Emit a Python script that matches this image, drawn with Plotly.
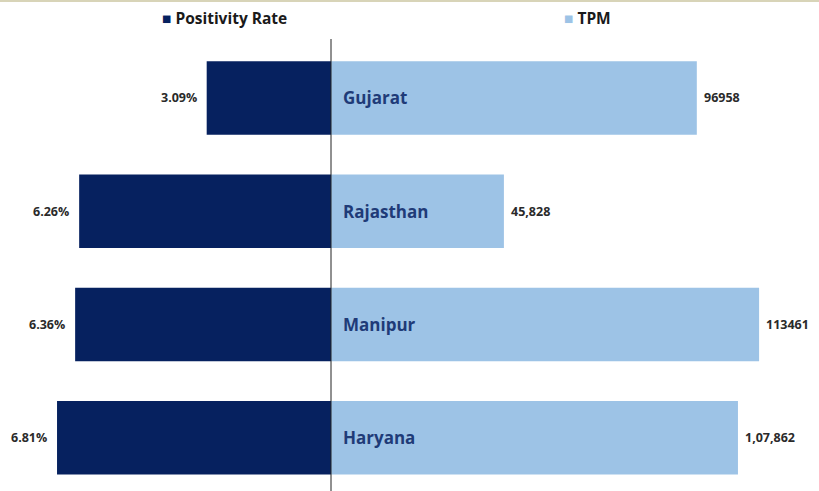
import plotly.graph_objects as go

states = ["Gujarat", "Rajasthan", "Manipur", "Haryana"]
positivity = [3.09, 6.26, 6.36, 6.81]
positivity_labels = ["3.09%", "6.26%", "6.36%", "6.81%"]
tpm = [96958, 45828, 113461, 107862]
tpm_labels = ["96958", "45,828", "113461", "1,07,862"]

NAVY = "#06215F"
LIGHT = "#9DC3E6"
W, H = 819, 491
center = 331 / W
FONT = "Open Sans"

fig = go.Figure()
fig.add_trace(go.Bar(y=states, x=positivity, orientation="h", xaxis="x", yaxis="y",
                     marker=dict(color=NAVY, line=dict(width=0)), width=0.65,
                     name="Positivity Rate", showlegend=False, hoverinfo="x+y"))
fig.add_trace(go.Bar(y=states, x=tpm, orientation="h", xaxis="x2", yaxis="y",
                     marker=dict(color=LIGHT, line=dict(width=0)), width=0.65,
                     name="TPM", showlegend=False, hoverinfo="x+y"))

ann = []
for s, v, t in zip(states, positivity, positivity_labels):
    ann.append(dict(x=v, y=s, xref="x", yref="y", text=t, showarrow=False,
                    xanchor="right", xshift=-8,
                    font=dict(family=FONT, size=12.5, color="#2a2a2a", weight="bold")))
for s, v, t in zip(states, tpm, tpm_labels):
    ann.append(dict(x=v, y=s, xref="x2", yref="y", text=t, showarrow=False,
                    xanchor="left", xshift=5,
                    font=dict(family=FONT, size=12.5, color="#2a2a2a", weight="bold")))
    ann.append(dict(x=0, y=s, xref="x2", yref="y", text=s, showarrow=False,
                    xanchor="left", xshift=10,
                    font=dict(family=FONT, size=17, color="#1F3B78", weight="bold")))

# legend built as text
ann.append(dict(x=160 / W, y=1 + 23 / 450, xref="paper", yref="paper",
                text=f"<span style='color:{NAVY}'>■</span> Positivity Rate",
                showarrow=False, xanchor="left", yanchor="middle",
                font=dict(family=FONT, size=15.5, color="#1a1a1a", weight="bold")))
ann.append(dict(x=562 / W, y=1 + 23 / 450, xref="paper", yref="paper",
                text=f"<span style='color:{LIGHT}'>■</span> TPM",
                showarrow=False, xanchor="left", yanchor="middle",
                font=dict(family=FONT, size=15.5, color="#1a1a1a", weight="bold")))

fig.update_layout(
    width=W, height=H,
    margin=dict(l=0, r=0, t=41, b=0),
    paper_bgcolor="white", plot_bgcolor="white",
    barmode="overlay",
    xaxis=dict(domain=[0, center], range=[331 / 40.23, 0], visible=False, fixedrange=True),
    xaxis2=dict(domain=[center, 1], range=[0, 488 / 0.003773], visible=False, fixedrange=True),
    yaxis=dict(type="category", categoryarray=states, range=[3.47, -0.503],
               visible=False, fixedrange=True),
    annotations=ann,
    shapes=[
        dict(type="line", xref="paper", yref="paper", x0=center, x1=center, y0=0, y1=1 + 2 / 450,
             line=dict(color="#222222", width=1)),
        dict(type="line", xref="paper", yref="paper", x0=0, x1=1, y0=1 + 40 / 450, y1=1 + 40 / 450,
             line=dict(color="#D8D4B8", width=2)),
    ],
)

fig.write_html("out.html", config={"displayModeBar": False},
               post_script="document.body.style.margin='0';document.body.style.overflow='hidden';")
